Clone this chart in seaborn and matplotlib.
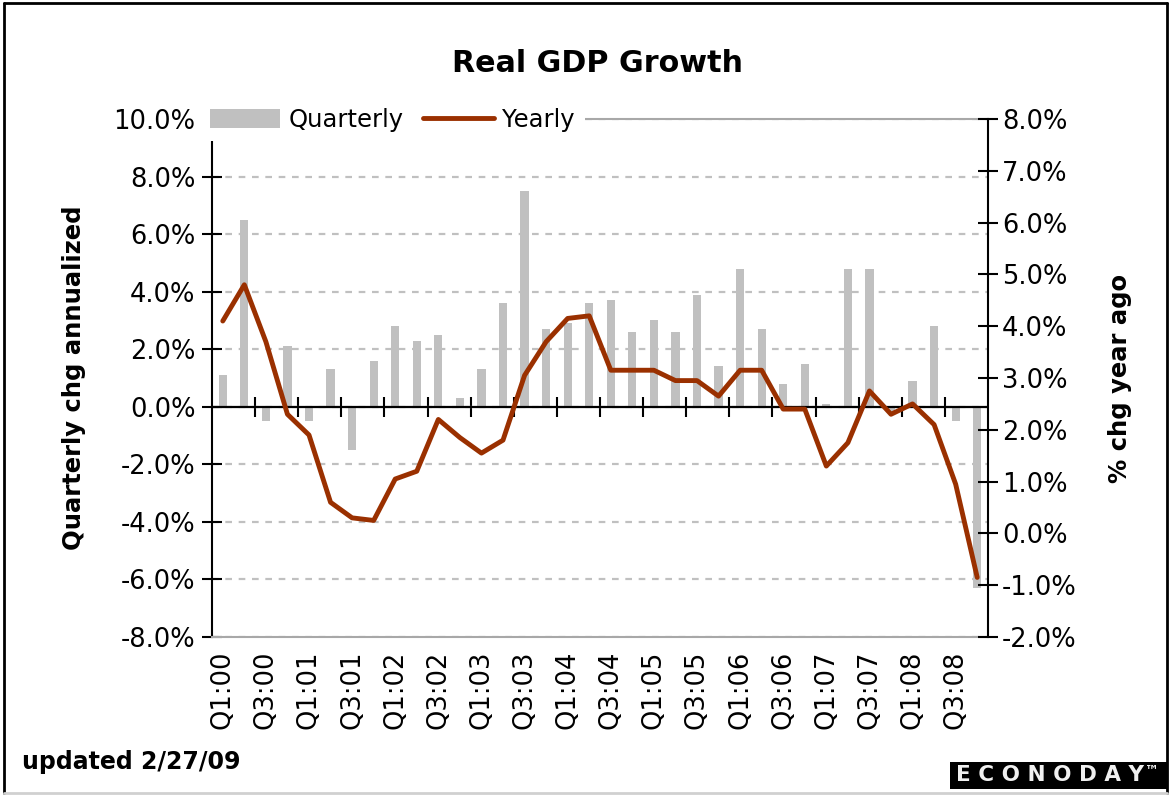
import numpy as np
import pandas as pd
import matplotlib
matplotlib.use("Agg")
import matplotlib.pyplot as plt
from matplotlib.lines import Line2D
from matplotlib.patches import Patch, Rectangle
import seaborn as sns

sns.set_style("white")
plt.rcParams['font.family'] = ['DejaVu Sans']
plt.rcParams['text.color'] = 'black'
plt.rcParams['axes.labelcolor'] = 'black'
plt.rcParams['xtick.color'] = 'black'
plt.rcParams['ytick.color'] = 'black'

# Du lieu doc tu hinh: Q1:00 .. Q4:08
quarterly = [1.1, 6.5, -0.5, 2.1, -0.5, 1.3, -1.5, 1.6,
             2.8, 2.3, 2.5, 0.3, 1.3, 3.6, 7.5, 2.7,
             2.9, 3.6, 3.7, 2.6, 3.0, 2.6, 3.9, 1.4,
             4.8, 2.7, 0.8, 1.5, 0.1, 4.8, 4.8, -0.2,
             0.9, 2.8, -0.5, -6.3]
yearly = [4.1, 4.8, 3.7, 2.3, 1.9, 0.6, 0.3, 0.25,
          1.05, 1.2, 2.2, 1.85, 1.55, 1.8, 3.05, 3.7,
          4.15, 4.2, 3.15, 3.15, 3.15, 2.95, 2.95, 2.65,
          3.15, 3.15, 2.4, 2.4, 1.3, 1.75, 2.75, 2.3,
          2.5, 2.1, 0.95, -0.85]
tick_labels = ["Q1:00", "Q3:00", "Q1:01", "Q3:01", "Q1:02", "Q3:02",
               "Q1:03", "Q3:03", "Q1:04", "Q3:04", "Q1:05", "Q3:05",
               "Q1:06", "Q3:06", "Q1:07", "Q3:07", "Q1:08", "Q3:08"]

df = pd.DataFrame({"idx": np.arange(len(quarterly)),
                   "quarterly": quarterly, "yearly": yearly})

bar_color = "#c0c0c0"
line_color = "#9a3000"
fs = 18.5

fig = plt.figure(figsize=(11.71, 7.96), dpi=100)
ax = fig.add_axes([212/1171, (796-637)/796, (988-212)/1171, (637-119)/796])

sns.barplot(data=df, x="idx", y="quarterly", ax=ax, color=bar_color,
            saturation=1, width=0.38, linewidth=0, errorbar=None)
ax.set_xlim(-0.5, len(quarterly) - 0.5)
ax.set_ylim(-8, 10)
ax.set_yticks(np.arange(-8, 11, 2))
ax.set_yticklabels([f"{v:.1f}%" for v in np.arange(-8, 11, 2)], fontsize=fs)
ax.set_xticks(np.arange(0, len(quarterly), 2))
ax.set_xticklabels(tick_labels, rotation=90, fontsize=fs)
ax.tick_params(axis='x', length=0, pad=10)
ax.tick_params(axis='y', direction='inout', length=14, width=1.5, color='black', pad=5)
ax.set_xlabel("")
ax.set_ylabel("Quarterly chg annualized", fontsize=17.5, fontweight='bold')
ax.yaxis.set_label_coords(-0.163, 0.5)
ax.set_axisbelow(True)
ax.yaxis.grid(True, linestyle=(0, (3, 3)), color=bar_color, linewidth=1.6)
ax.xaxis.grid(False)
ax.spines['left'].set_color('black')
ax.spines['left'].set_linewidth(1.5)
for s in ['top', 'bottom']:
    ax.spines[s].set_color('#a8a8a8')
    ax.spines[s].set_linewidth(1.5)
ax.spines['right'].set_visible(False)

# truc danh muc o muc 0%
ax.axhline(0, color='black', linewidth=1.6, zorder=3)
zero = ax.secondary_xaxis(8/18)
zero.set_xticks(np.arange(1.5, len(quarterly) - 1, 2))
zero.set_xticklabels([])
zero.tick_params(axis='x', direction='inout', length=15, width=1.5, color='black')
zero.spines['bottom'].set_visible(False)
zero.spines['top'].set_visible(False)

ax2 = ax.twinx()
sns.lineplot(data=df, x="idx", y="yearly", ax=ax2, color=line_color, linewidth=3.5)
ax2.set_ylim(-2, 8)
ax2.set_yticks(np.arange(-2, 9, 1))
ax2.set_yticklabels([f"{v:.1f}%" for v in np.arange(-2, 9, 1)], fontsize=fs)
ax2.tick_params(axis='y', direction='inout', length=14, width=1.5, color='black', pad=3)
ax2.set_ylabel("% chg year ago", fontsize=17.5, fontweight='bold', rotation=90)
ax2.yaxis.set_label_coords(1.155, 0.5)
ax2.set_xlabel("")
for s in ['left', 'top', 'bottom']:
    ax2.spines[s].set_visible(False)
ax2.spines['right'].set_color('black')
ax2.spines['right'].set_linewidth(1.5)

handles = [Patch(facecolor=bar_color, edgecolor='none', label='Quarterly'),
           Line2D([], [], color=line_color, linewidth=3.5, label='Yearly')]
leg = ax2.legend(handles=handles, ncol=2, loc='upper left',
                 bbox_to_anchor=(200/1171, (796-98)/796), bbox_transform=fig.transFigure,
                 fontsize=17.5, frameon=True, facecolor='white', edgecolor='none',
                 framealpha=1, fancybox=False, borderpad=0.4, borderaxespad=0,
                 handlelength=2.9, handleheight=0.8, handletextpad=0.35,
                 columnspacing=0.8)

fig.text(597/1171, (796-63)/796, "Real GDP Growth", fontsize=21.7,
         fontweight='bold', ha='center', va='center')
fig.text(22/1171, (796-762)/796, "updated 2/27/09", fontsize=17,
         fontweight='bold', ha='left', va='center')

# logo
fig.add_artist(Rectangle((950/1171, (796-789)/796), 218/1171, 27/796,
                         transform=fig.transFigure, facecolor='black', edgecolor='none'))
fig.text(1050/1171, (796-775)/796, "E C O N O D A Y", fontsize=15.5, fontweight='bold',
         color='#f0f0f0', ha='center', va='center')
fig.text(1152/1171, (796-770)/796, "\u2122", fontsize=10, fontweight='bold',
         color='#f0f0f0', ha='center', va='center')

# khung ngoai
fig.add_artist(Line2D([0.003, 0.997], [0.996, 0.996], transform=fig.transFigure, color='black', lw=2))
fig.add_artist(Line2D([0.003, 0.003], [0.004, 0.996], transform=fig.transFigure, color='black', lw=2))
fig.add_artist(Line2D([0.997, 0.997], [0.004, 0.996], transform=fig.transFigure, color='black', lw=2))
fig.add_artist(Line2D([0.003, 0.997], [0.004, 0.004], transform=fig.transFigure, color='#d0d0d0', lw=2))

fig.savefig("out.png", dpi=100, facecolor='white')
